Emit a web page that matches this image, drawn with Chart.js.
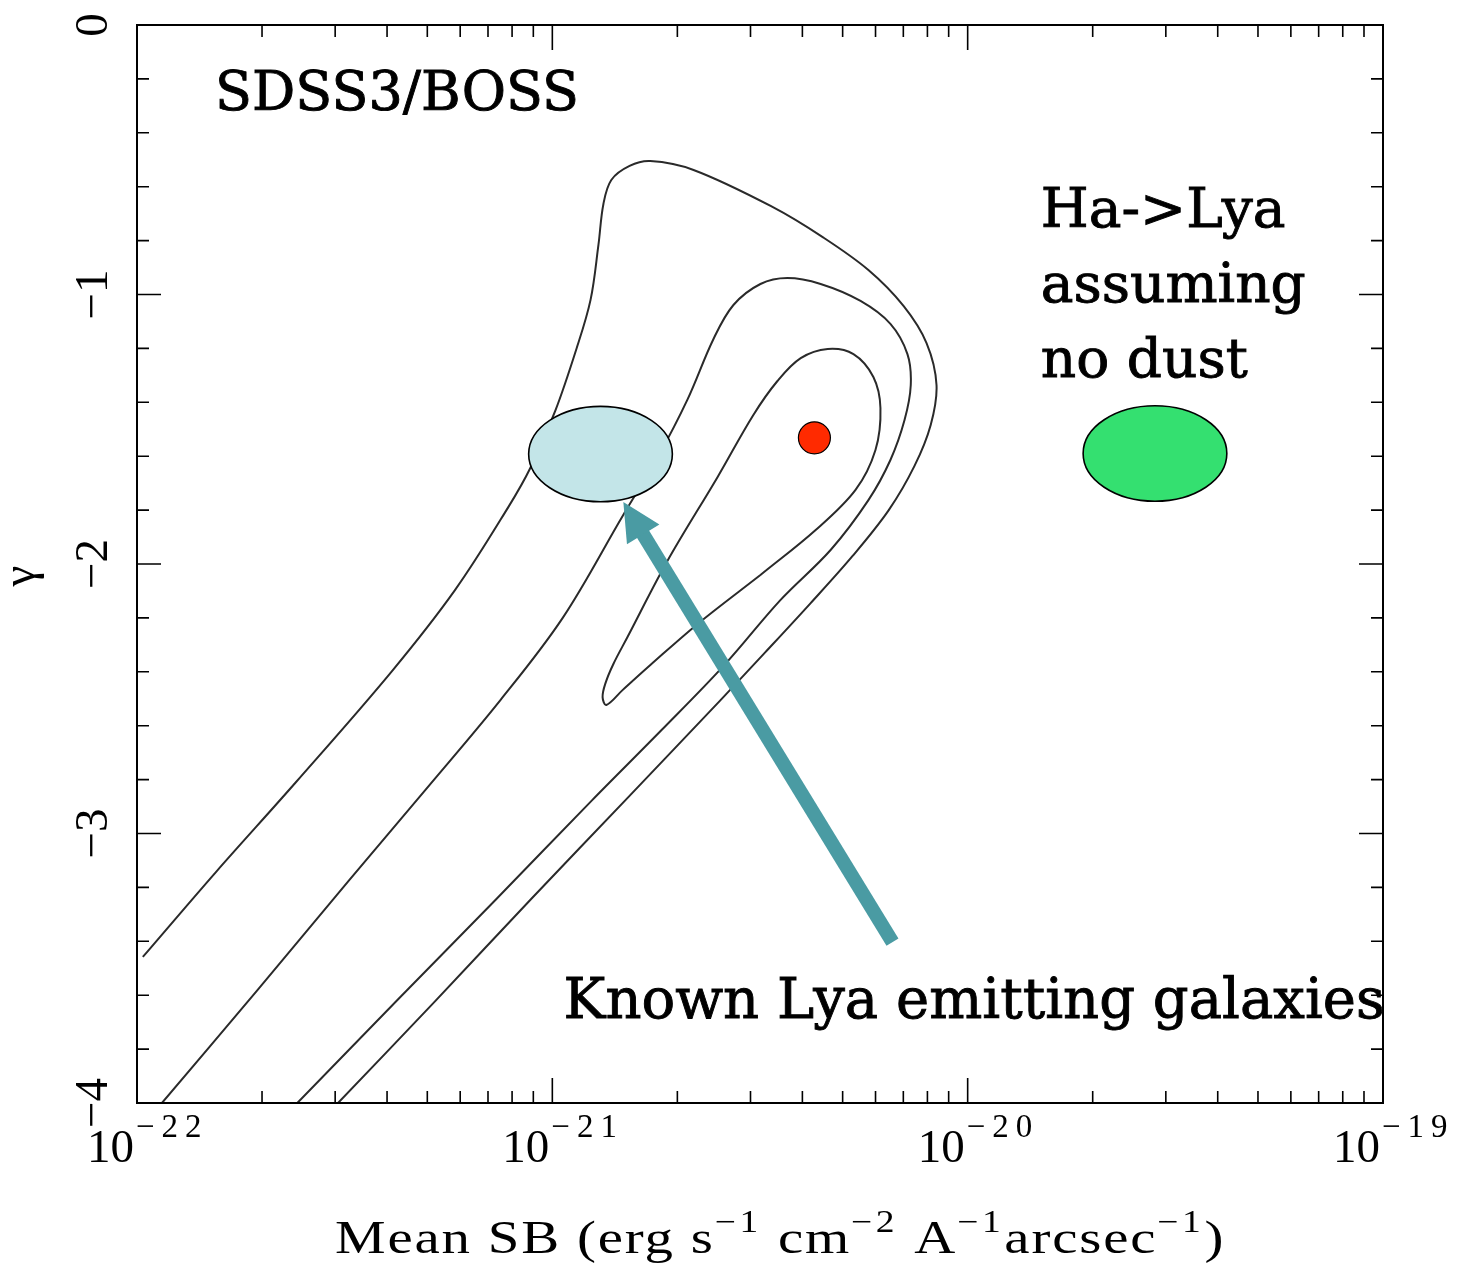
<!DOCTYPE html>
<html>
<head>
<meta charset="utf-8">
<title>Mean SB vs gamma</title>
<script src="https://cdn.jsdelivr.net/npm/chart.js@4.4.0/dist/chart.umd.min.js"></script>
<style>
  html, body { margin: 0; padding: 0; background: #fff; }
  #wrap { width: 1460px; height: 1266px; }
</style>
</head>
<body>
<div id="wrap"><canvas id="sbChart" width="1460" height="1266"></canvas></div>
<script>
// contour levels: x is log10(mean SB), y is gamma
const outerLogSB = [-21.986, -21.81, -21.617, -21.388, -21.234, -21.106, -21.053, -20.993, -20.942, -20.908,
  -20.889, -20.877, -20.858, -20.814, -20.764, -20.66, -20.47, -20.349, -20.239, -20.154,
  -20.099, -20.075, -20.089, -20.128, -20.19, -20.277, -20.378, -20.487, -20.595, -20.817,
  -21.051, -21.282, -21.516];
const outerGamma = [-3.458, -3.143, -2.809, -2.401, -2.096, -1.789, -1.644, -1.432, -1.202, -1.02,
  -0.816, -0.664, -0.575, -0.523, -0.505, -0.538, -0.675, -0.787, -0.909, -1.043,
  -1.18, -1.336, -1.484, -1.636, -1.8, -1.97, -2.145, -2.327, -2.505, -2.865,
  -3.243, -3.622, -4.0];

const middleLogSB = [-21.94, -21.71, -21.489, -21.306, -21.125, -20.975, -20.83, -20.745, -20.675, -20.612,
  -20.564, -20.499, -20.434, -20.354, -20.258, -20.186, -20.145, -20.137, -20.152, -20.186,
  -20.239, -20.33, -20.451, -20.586, -20.737, -20.904, -21.137, -21.373, -21.614];
const middleGamma = [-4.0, -3.581, -3.173, -2.839, -2.505, -2.2, -1.82, -1.6, -1.391, -1.165,
  -1.039, -0.961, -0.939, -0.961, -1.024, -1.109, -1.221, -1.336, -1.466, -1.614,
  -1.763, -1.948, -2.134, -2.375, -2.616, -2.876, -3.247, -3.618, -4.0];

const innerLogSB = [-20.499, -20.653, -20.764, -20.831, -20.87, -20.879, -20.872, -20.853, -20.819, -20.723,
  -20.602, -20.516, -20.458, -20.402, -20.337, -20.275, -20.227, -20.21, -20.222, -20.27,
  -20.366, -20.499];
const innerGamma = [-2.041, -2.226, -2.375, -2.468, -2.523, -2.494, -2.442, -2.371, -2.271, -1.989,
  -1.677, -1.447, -1.321, -1.236, -1.202, -1.221, -1.306, -1.421, -1.577, -1.725,
  -1.874, -2.041];

// best fit point
const bestLogSB = [-20.369];
const bestGamma = [-1.532];

// known Lya emitters and the H-alpha based estimate
const blobLogSB = [-20.884, -19.549];
const blobGamma = [-1.592, -1.59];
const blobColors = ['#c3e5e8', '#34e070'];

// arrow: tail then tip
const arrowLogSB = [-20.181, -20.829];
const arrowGamma = [-3.403, -1.77];

// axis ticks
const xTickExponents = [-22, -21, -20, -19];
const yTickValues = [-4, -3, -2, -1, 0];
const yTickLabels = ['\u22124', '\u22123', '\u22122', '\u22121', '0'];

const axisFont = '"Liberation Serif", "DejaVu Serif", serif';
const noteFont = '"DejaVu Serif", serif';

function toPoints(logs, gammas) {
  return logs.map((v, i) => ({ x: Math.pow(10, v), y: gammas[i] }));
}

function contour(logs, gammas) {
  return {
    data: toPoints(logs, gammas),
    showLine: true,
    tension: 0.35,
    borderColor: '#2a2a2a',
    borderWidth: 2,
    pointRadius: 0,
    fill: false
  };
}

// inward tick marks, frame and PGPLOT style labels
const frameAxes = {
  id: 'frameAxes',
  afterDraw(chart) {
    const { ctx, chartArea: a, scales: { x, y } } = chart;
    ctx.save();
    ctx.strokeStyle = '#000';
    ctx.lineWidth = 2;
    ctx.strokeRect(a.left, a.top, a.right - a.left, a.bottom - a.top);

    ctx.lineWidth = 1.6;
    const xTick = (px, len) => {
      ctx.beginPath();
      ctx.moveTo(px, a.bottom); ctx.lineTo(px, a.bottom - len);
      ctx.moveTo(px, a.top); ctx.lineTo(px, a.top + len);
      ctx.stroke();
    };
    const yTick = (py, len) => {
      ctx.beginPath();
      ctx.moveTo(a.left, py); ctx.lineTo(a.left + len, py);
      ctx.moveTo(a.right, py); ctx.lineTo(a.right - len, py);
      ctx.stroke();
    };

    xTickExponents.forEach((e, i) => {
      xTick(x.getPixelForValue(Math.pow(10, e)), 25);
      if (i < xTickExponents.length - 1) {
        for (let m = 2; m <= 9; m++) xTick(x.getPixelForValue(m * Math.pow(10, e)), 12);
      }
    });
    for (let k = 0; k <= 20; k++) {
      const v = yTickValues[0] + k * 0.2;
      yTick(y.getPixelForValue(v), k % 5 === 0 ? 24 : 12);
    }

    // x labels: 10 with a raised exponent
    ctx.fillStyle = '#000';
    ctx.textBaseline = 'alphabetic';
    ctx.textAlign = 'left';
    xTickExponents.forEach(e => {
      const px = x.getPixelForValue(Math.pow(10, e));
      ctx.font = '47px ' + axisFont;
      const w10 = ctx.measureText('10').width;
      ctx.fillText('10', px - w10 - 3, 1162);
      ctx.font = '33px ' + axisFont;
      ctx.letterSpacing = '7px';
      ctx.fillText('\u2212' + String(-e), px - 1, 1137);
      ctx.letterSpacing = '0px';
    });

    // y labels, rotated
    ctx.font = '47px ' + axisFont;
    ctx.textAlign = 'center';
    yTickValues.forEach((v, i) => {
      ctx.save();
      ctx.translate(107, y.getPixelForValue(v));
      ctx.rotate(-Math.PI / 2);
      ctx.fillText(yTickLabels[i], 0, 0);
      ctx.restore();
    });

    // axis titles
    ctx.save();
    ctx.translate(34, (a.top + a.bottom) / 2 + 12);
    ctx.rotate(-Math.PI / 2);
    ctx.fillText('\u03b3', 0, 0);
    ctx.restore();

    const parts = [
      ['Mean SB (erg s', false], ['\u22121', true], [' cm', false], ['\u22122', true],
      [' A', false], ['\u22121', true], ['arcsec', false], ['\u22121', true], [')', false]
    ];
    ctx.save();
    ctx.translate(335, 0);
    ctx.scale(1.21, 1);
    ctx.textAlign = 'left';
    let cx = 0;
    parts.forEach(([txt, sup]) => {
      ctx.font = (sup ? '31px ' : '47px ') + axisFont;
      ctx.letterSpacing = sup ? '3px' : '1.5px';
      ctx.fillText(txt, cx, sup ? 1232 : 1253);
      cx += ctx.measureText(txt).width;
    });
    ctx.letterSpacing = '0px';
    ctx.restore();
    ctx.restore();
  }
};

// ellipses, arrow and text notes
const notes = {
  id: 'notes',
  afterDatasetsDraw(chart) {
    const { ctx, scales: { x, y } } = chart;
    const px = v => x.getPixelForValue(Math.pow(10, v));
    const py = g => y.getPixelForValue(g);
    ctx.save();

    blobLogSB.forEach((v, i) => {
      const cx = px(v), cy = py(blobGamma[i]);
      const rx = px(v + 0.173) - cx;
      const ry = cy - py(blobGamma[i] + 0.177);
      ctx.beginPath();
      ctx.ellipse(cx, cy, rx, ry, 0, 0, Math.PI * 2);
      ctx.fillStyle = blobColors[i];
      ctx.fill();
      ctx.lineWidth = 1.6;
      ctx.strokeStyle = '#000';
      ctx.stroke();
    });

    const x0 = px(arrowLogSB[0]), y0 = py(arrowGamma[0]);
    const x1 = px(arrowLogSB[1]), y1 = py(arrowGamma[1]);
    const len = Math.hypot(x1 - x0, y1 - y0);
    const ux = (x1 - x0) / len, uy = (y1 - y0) / len;
    const headLen = 38, headHalf = 19;
    ctx.strokeStyle = '#4a9ba3';
    ctx.fillStyle = '#4a9ba3';
    ctx.lineWidth = 14;
    ctx.beginPath();
    ctx.moveTo(x0, y0);
    ctx.lineTo(x1 - ux * (headLen - 4), y1 - uy * (headLen - 4));
    ctx.stroke();
    ctx.beginPath();
    ctx.moveTo(x1, y1);
    ctx.lineTo(x1 - ux * headLen - uy * headHalf, y1 - uy * headLen + ux * headHalf);
    ctx.lineTo(x1 - ux * headLen + uy * headHalf, y1 - uy * headLen - ux * headHalf);
    ctx.closePath();
    ctx.fill();
    ctx.restore();
  },
  afterDraw(chart) {
    const { ctx, scales: { x, y } } = chart;
    const px = v => x.getPixelForValue(Math.pow(10, v));
    const py = g => y.getPixelForValue(g);
    const note = (txt, size, v, g) => {
      ctx.font = size + 'px ' + noteFont;
      ctx.fillText(txt, px(v), py(g));
      ctx.strokeText(txt, px(v), py(g));
    };
    ctx.save();
    ctx.fillStyle = '#000';
    ctx.strokeStyle = '#000';
    ctx.lineWidth = 0.9;
    ctx.textAlign = 'left';
    ctx.textBaseline = 'alphabetic';
    note('SDSS3/BOSS', 54, -21.812, -0.315);
    note('Ha->Lya', 55, -19.824, -0.75);
    note('assuming', 55, -19.824, -1.028);
    note('no dust', 55, -19.824, -1.306);
    note('Known Lya emitting galaxies', 56, -20.973, -3.685);
    ctx.restore();
  }
};

const ctx = document.getElementById('sbChart').getContext('2d');
const sbChart = new Chart(ctx, {
  type: 'scatter',
  data: {
    datasets: [
      {
        data: toPoints(bestLogSB, bestGamma),
        pointRadius: 16,
        pointBackgroundColor: '#ff2a00',
        pointBorderColor: '#000',
        pointBorderWidth: 1.2,
        showLine: false
      },
      contour(innerLogSB, innerGamma),
      contour(middleLogSB, middleGamma),
      contour(outerLogSB, outerGamma)
    ]
  },
  options: {
    responsive: false,
    animation: false,
    layout: { padding: { left: 137, top: 25, right: 77, bottom: 163 } },
    plugins: { legend: { display: false }, tooltip: { enabled: false } },
    scales: {
      x: { type: 'logarithmic', min: 1e-22, max: 1e-19, display: false },
      y: { type: 'linear', min: -4, max: 0, display: false }
    }
  },
  plugins: [notes, frameAxes]
});
</script>
</body>
</html>
